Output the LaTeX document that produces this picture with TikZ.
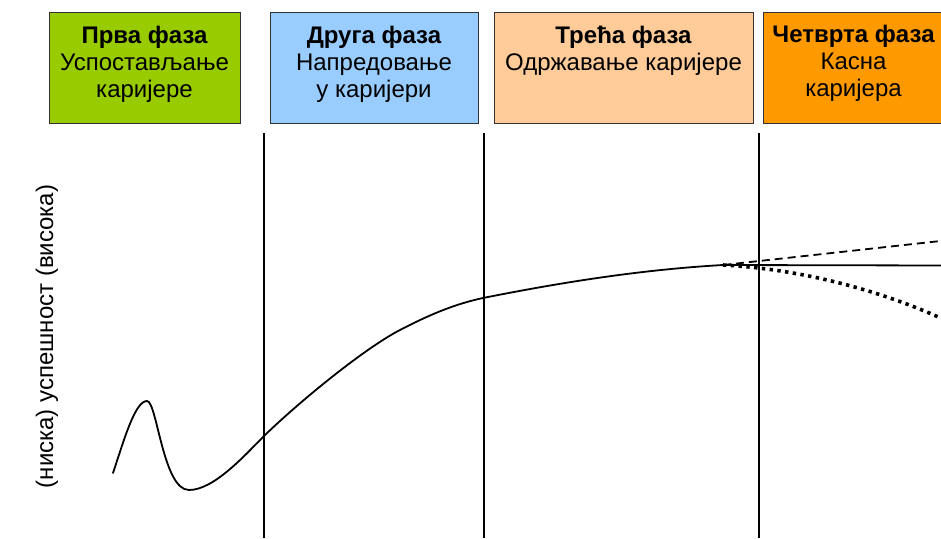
\documentclass[tikz,border=0pt]{standalone}
\usepackage{fontspec}
\setmainfont{Liberation Sans}
\definecolor{phaseA}{HTML}{99CC00}
\definecolor{phaseB}{HTML}{99CCFF}
\definecolor{phaseC}{HTML}{FFCC99}
\definecolor{phaseD}{HTML}{FF9900}
\definecolor{frame}{HTML}{333333}
\begin{document}
\begin{tikzpicture}[x=1pt,y=-1pt,
  phasebox/.style={draw=frame, line width=1.2pt},
  phasetext/.style={anchor=base, inner sep=0pt, font=\fontsize{24}{27}\selectfont},
  divider/.style={line width=1.6pt, black},
  curveline/.style={line width=1.8pt, black, line join=round, line cap=round},
  trenddash/.style={line width=1.8pt, dash pattern=on 8pt off 5pt},
  trenddot/.style={line width=3.6pt, dash pattern=on 3.4pt off 4.4pt}
]
\useasboundingbox (0,0) rectangle (941,538);
\clip (0,0) rectangle (941,538);
\setlength{\tabcolsep}{0pt}

% phase boxes
\node[phasebox, fill=phaseA, minimum width=191pt, minimum height=111pt, anchor=north west, inner sep=0pt] (b1) at (49,12) {};
\node[phasebox, fill=phaseB, minimum width=208pt, minimum height=111pt, anchor=north west, inner sep=0pt] (b2) at (270,12) {};
\node[phasebox, fill=phaseC, minimum width=259pt, minimum height=111pt, anchor=north west, inner sep=0pt] (b3) at (494,12) {};
\node[phasebox, fill=phaseD, minimum width=181pt, minimum height=111pt, anchor=north west, inner sep=0pt] (b4) at (763,12) {};

\node[phasetext] (t1) at (144.5,43) {\begin{tabular}[t]{c}\bfseries Прва фаза\\ Успостављање\\ каријере\end{tabular}};
\node[phasetext] (t2) at (374,43) {\begin{tabular}[t]{c}\bfseries Друга фаза\\ Напредовање\\ у каријери\end{tabular}};
\node[phasetext] (t3) at (623.5,43) {\begin{tabular}[t]{c}\bfseries Трећа фаза\\ Одржавање каријере\end{tabular}};
\node[phasetext] (t4) at (853.5,42) {\begin{tabular}[t]{c}\bfseries Четврта фаза\\ Касна\\ каријера\end{tabular}};

% dividers
\coordinate (d1t) at (264,133); \coordinate (d1b) at (264,538);
\coordinate (d2t) at (484,133); \coordinate (d2b) at (484,538);
\coordinate (d3t) at (759,133); \coordinate (d3b) at (759,538);
\draw[divider] (d1t) -- (d1b);
\draw[divider] (d2t) -- (d2b);
\draw[divider] (d3t) -- (d3b);

% axis label
\node[rotate=90, inner sep=0pt, font=\fontsize{24}{27}\selectfont] (ylab) at (47,336.5) {(ниска) успешност (висока)};

% career curve
\coordinate (start) at (113,473);
\coordinate (peak) at (147,401);
\coordinate (dip) at (189,490);
\coordinate (c1) at (264,436);
\coordinate (c2) at (400,330);
\coordinate (c3) at (483,298);
\coordinate (split) at (723,265);
\draw[curveline] (start) .. controls (124,440) and (135,401) .. (peak)
  .. controls (157,401) and (163,490) .. (dip)
  .. controls (214,490) and (245,455) .. (c1)
  .. controls (300,401) and (365,348) .. (c2)
  .. controls (430,314.4) and (455,304) .. (c3)
  .. controls (563,282) and (643,269.5) .. (split);

\coordinate (flatend) at (945,265.5);
\coordinate (upend) at (945,240.5);
\coordinate (downend) at (945,320);
\draw[curveline] (split) -- (flatend);
\draw[trenddash] (split) -- (upend);
\draw[trenddot] (split) .. controls (800,269) and (880,290) .. (downend);
\end{tikzpicture}
\end{document}
